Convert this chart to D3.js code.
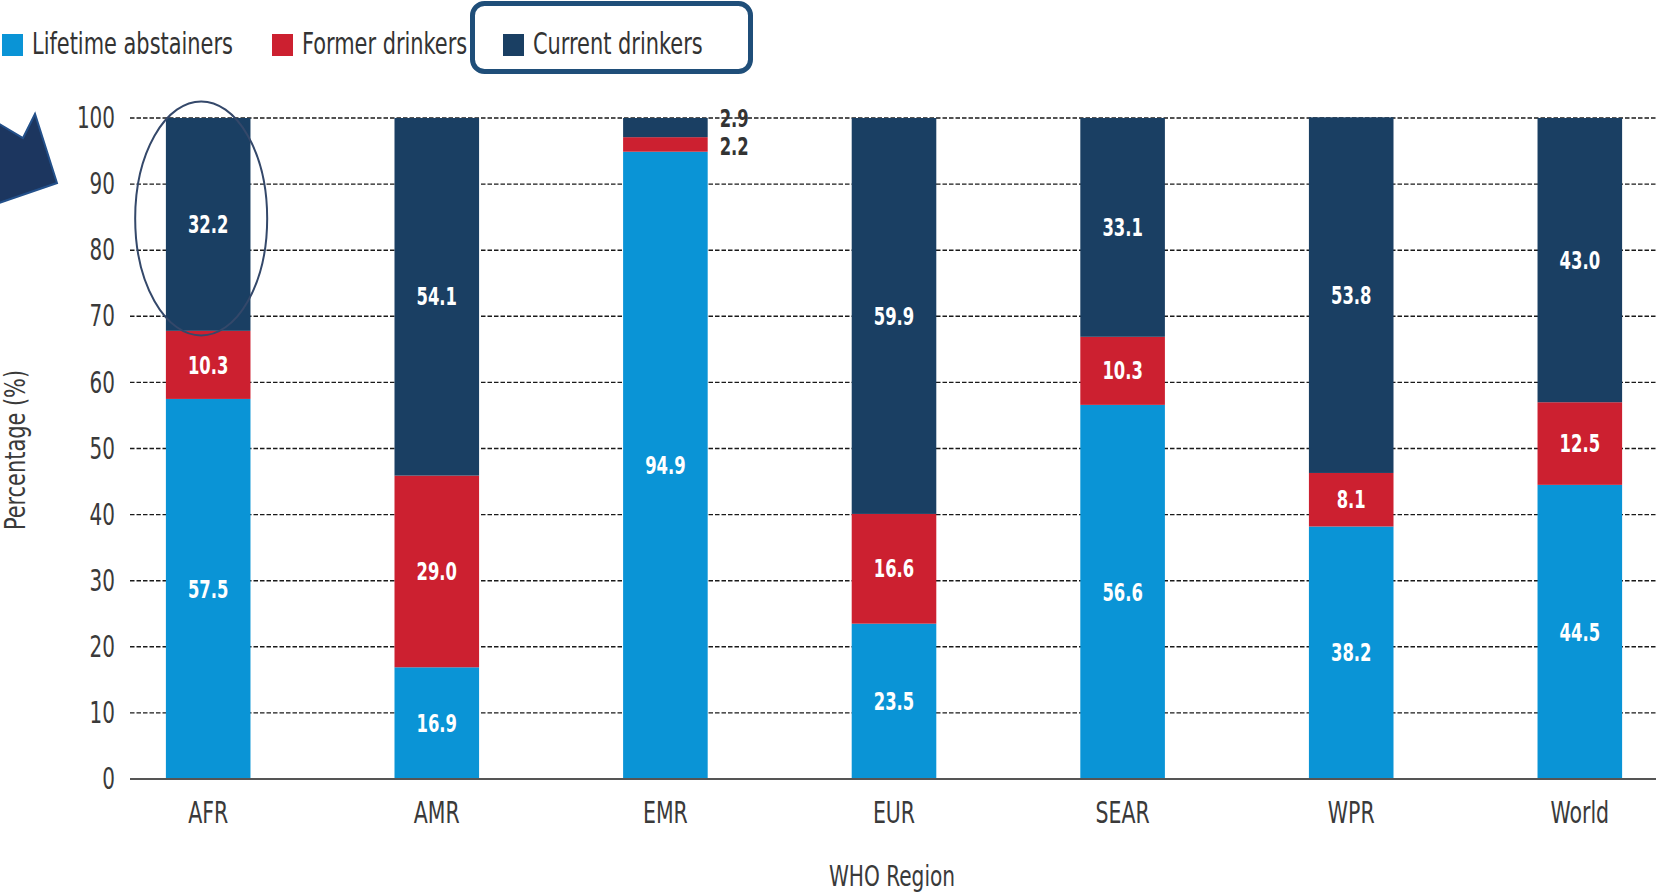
<!DOCTYPE html>
<html>
<head>
<meta charset="utf-8">
<script src="https://cdn.jsdelivr.net/npm/d3@7"></script>
<style>
  html, body { margin: 0; padding: 0; background: #fff; }
  svg { display: block; }
  text { font-family: "DejaVu Sans Condensed", "DejaVu Sans", sans-serif; }
</style>
</head>
<body>
<svg id="chart" width="1656" height="894"></svg>
<script>
// ---- data ----
const regions = ["AFR", "AMR", "EMR", "EUR", "SEAR", "WPR", "World"];
const seriesNames = ["Lifetime abstainers", "Former drinkers", "Current drinkers"];
const lifetimeAbstainers = [57.5, 16.9, 94.9, 23.5, 56.6, 38.2, 44.5];
const formerDrinkers = [10.3, 29.0, 2.2, 16.6, 10.3, 8.1, 12.5];
const currentDrinkers = [32.2, 54.1, 2.9, 59.9, 33.1, 53.8, 43.0];
const yTicks = [0, 10, 20, 30, 40, 50, 60, 70, 80, 90, 100];
const seriesColors = ["#0a94d6", "#cc2030", "#1a3f63"];
const xTitle = "WHO Region";
const yTitle = "Percentage (%)";

// ---- build table ----
const keys = ["lifetime", "former", "current"];
const table = regions.map((r, i) => ({
  region: r,
  lifetime: lifetimeAbstainers[i],
  former: formerDrinkers[i],
  current: currentDrinkers[i]
}));
const stacked = d3.stack().keys(keys)(table);

const svg = d3.select("#chart");
const W = 1656;

// horizontally condense text (reference uses a condensed typeface)
function squeeze(sel, k) {
  sel.each(function () {
    const t = d3.select(this);
    const x0 = +t.attr("x") || 0;
    const y0 = +t.attr("y") || 0;
    t.attr("x", 0).attr("y", 0)
      .attr("transform", `translate(${x0},${y0}) scale(${k},1)`);
  });
}

const x = d3.scaleBand().domain(regions).range([130, 1658])
  .paddingInner(0.63).paddingOuter(0.157);
const y = d3.scaleLinear().domain([0, 100]).range([779, 118]);
const color = d3.scaleOrdinal().domain(keys).range(seriesColors);

// gridlines
svg.append("g").selectAll("line")
  .data(yTicks.filter(t => t > 0))
  .join("line")
  .attr("x1", 130).attr("x2", W)
  .attr("y1", d => y(d)).attr("y2", d => y(d))
  .attr("stroke", "#1a1a1a").attr("stroke-width", 1.4)
  .attr("stroke-dasharray", "4.5,2");

// y axis (labels only)
const yAxis = svg.append("g")
  .attr("transform", "translate(130,0)")
  .call(d3.axisLeft(y).tickValues(yTicks).tickSize(0).tickPadding(15));
yAxis.select(".domain").remove();
yAxis.selectAll("text")
  .attr("font-size", 30).attr("fill", "#3a3a3a")
  .style("font-family", "'DejaVu Sans Condensed', sans-serif")
  .call(squeeze, 0.74);

// bars
const layer = svg.append("g").selectAll("g")
  .data(stacked).join("g")
  .attr("fill", d => color(d.key));
layer.selectAll("rect")
  .data(d => d)
  .join("rect")
  .attr("x", d => x(d.data.region))
  .attr("width", x.bandwidth())
  .attr("y", d => y(d[1]))
  .attr("height", d => y(d[0]) - y(d[1]));

// x axis baseline + labels
const xAxis = svg.append("g")
  .attr("transform", "translate(0,779)")
  .call(d3.axisBottom(x).tickSize(0).tickPadding(23));
xAxis.select(".domain").remove();
xAxis.append("line")
  .attr("x1", 130).attr("x2", W).attr("y1", 0).attr("y2", 0)
  .attr("stroke", "#555").attr("stroke-width", 2);
xAxis.selectAll(".tick text")
  .attr("font-size", 30).attr("fill", "#3a3a3a").attr("dy", "0.71em")
  .style("font-family", "'DejaVu Sans Condensed', sans-serif")
  .call(squeeze, 0.76);

// value labels
const labelsG = svg.append("g");
stacked.forEach((s, si) => {
  s.forEach(d => {
    const v = d[1] - d[0];
    const inside = v >= 5;
    const cx = x(d.data.region) + x.bandwidth() / 2;
    let ty = y((d[0] + d[1]) / 2);
    let tx = cx;
    if (!inside) {
      tx = x(d.data.region) + x.bandwidth() + 12;
      ty = si === keys.length - 1 ? y(d[1]) : y((d[0] + d[1]) / 2) + 2;
    }
    labelsG.append("text")
      .attr("x", tx).attr("y", ty)
      .attr("dy", "0.36em")
      .attr("text-anchor", inside ? "middle" : "start")
      .attr("font-size", 24).attr("font-weight", "bold")
      .attr("fill", inside ? "#ffffff" : "#333333")
      .text(d3.format(".1f")(v));
  });
});
labelsG.selectAll("text").call(squeeze, 0.76);

// axis titles
svg.append("text")
  .attr("x", 892).attr("y", 886)
  .attr("text-anchor", "middle")
  .attr("font-size", 28).attr("fill", "#3a3a3a")
  .text(xTitle)
  .call(squeeze, 0.8);
svg.append("text")
  .attr("transform", "translate(25,450) rotate(-90) scale(0.83,1)")
  .attr("text-anchor", "middle")
  .attr("font-size", 28).attr("fill", "#3a3a3a")
  .text(yTitle);

// legend
const legendX = [2, 272, 503];
const legend = svg.append("g");
seriesNames.forEach((n, i) => {
  legend.append("rect")
    .attr("x", legendX[i]).attr("y", 34)
    .attr("width", 21).attr("height", 22)
    .attr("fill", seriesColors[i]);
  legend.append("text")
    .attr("x", legendX[i] + 30).attr("y", 54)
    .attr("font-size", 30).attr("fill", "#333")
    .text(n)
    .call(squeeze, 0.775);
});

// annotation: rounded box around "Current drinkers" legend item
svg.append("rect")
  .attr("x", 472.5).attr("y", 3.5)
  .attr("width", 278).attr("height", 68)
  .attr("rx", 12).attr("ry", 12)
  .attr("fill", "none").attr("stroke", "#1f4e79").attr("stroke-width", 5);

// annotation: ellipse around AFR current drinkers
svg.append("ellipse")
  .attr("cx", x("AFR") + x.bandwidth() / 2 - 7)
  .attr("cy", y(84.8))
  .attr("rx", 66).attr("ry", 117)
  .attr("fill", "none").attr("stroke", "#34486a").attr("stroke-width", 2);

// annotation: arrow at top-left
svg.append("polygon")
  .attr("points", "-4,122 23,138 35,114 57,183 -4,204")
  .attr("fill", "#1c365f").attr("stroke", "#23508a").attr("stroke-width", 2);
</script>
</body>
</html>
